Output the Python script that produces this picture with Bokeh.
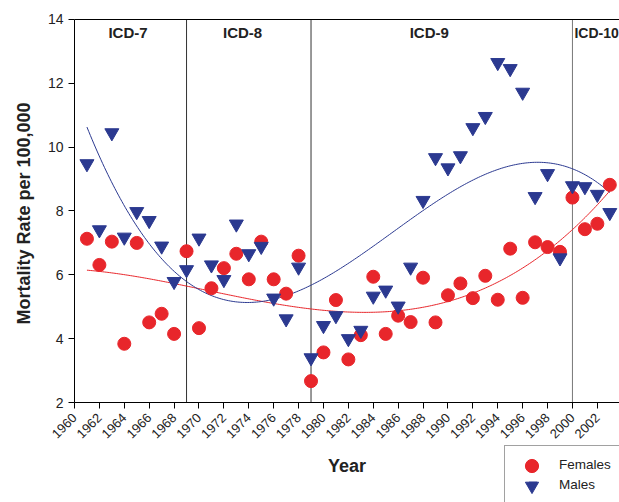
import numpy as np
from math import pi
from bokeh.plotting import figure
from bokeh.models import Label, Legend, LegendItem, FixedTicker, LinearAxis, Title
from bokeh.embed import file_html
from bokeh.resources import INLINE

# ---- data ----
years = list(range(1961, 2004))
females = [7.13, 6.31, 7.04, 3.84, 7.00, 4.51, 4.78, 4.15, 6.74, 4.33,
           5.58, 6.21, 6.66, 5.86, 7.04, 5.86, 5.41, 6.60, 2.67, 3.57,
           5.21, 3.35, 4.11, 5.94, 4.15, 4.72, 4.52, 5.91, 4.51, 5.36,
           5.73, 5.27, 5.97, 5.22, 6.82, 5.28, 7.02, 6.87, 6.72, 8.42,
           7.43, 7.60, 8.82]
males = [9.48, 7.41, 10.45, 7.18, 7.98, 7.70, 6.90, 5.79, 6.16, 7.15,
         6.31, 5.85, 7.59, 6.66, 6.89, 5.27, 4.62, 6.24, 3.40, 4.41,
         4.72, 4.00, 4.26, 5.33, 5.52, 5.02, 6.24, 8.33, 9.67, 9.35,
         9.73, 10.61, 10.96, 12.65, 12.46, 11.72, 8.45, 9.17, 6.53, 8.79,
         8.76, 8.52, 7.95]
icd_boundaries = [1969, 1979, 2000]
icd_labels = ["ICD-7", "ICD-8", "ICD-9", "ICD-10"]
x_ticks = list(range(1960, 2006, 2))
y_ticks = [2, 4, 6, 8, 10, 12, 14]

RED = "#E8262B"
BLUE = "#2B3990"
FONT = "Liberation Sans"

# The frame covers the whole canvas (except the y-title strip) so that the legend
# and the tick labels are not clipped; the axes are pinned with fixed_location.
p = figure(width=619, height=502, x_range=(1957.349, 2003.78), y_range=(-1.133, 14.595),
           output_backend="svg", toolbar_location=None,
           min_border_left=41, min_border_right=0, min_border_top=0,
           min_border_bottom=0)
p.grid.visible = False
p.outline_line_color = None
p.background_fill_color = "white"
p.border_fill_color = "white"

for ax in (p.xaxis[0], p.yaxis[0]):
    ax.axis_line_color = "black"
    ax.major_tick_line_color = "black"
    ax.minor_tick_line_color = None
    ax.major_tick_out = 6
    ax.major_tick_in = 0
    ax.major_label_text_font = FONT
    ax.major_label_text_color = "#222222"
    ax.axis_label_text_font = FONT
    ax.axis_label_text_font_style = "bold"
    ax.axis_label_text_color = "#222222"
    ax.axis_label_text_font_size = "18px"

p.xaxis.fixed_location = y_ticks[0]
p.xaxis.bounds = (x_ticks[0], x_ticks[-1])
p.xaxis.ticker = FixedTicker(ticks=x_ticks)
p.xaxis.major_label_orientation = pi / 4
p.xaxis.major_label_text_font_size = "13px"
p.xaxis.major_label_standoff = 7
p.xaxis.axis_label = "Year"
p.xaxis.axis_label_standoff = 11

p.yaxis.fixed_location = x_ticks[0]
p.yaxis.bounds = (y_ticks[0], y_ticks[-1])
p.yaxis.ticker = FixedTicker(ticks=y_ticks)
p.yaxis.major_label_text_font_size = "14px"
p.yaxis.major_label_standoff = 5

# y axis title (left panel)
p.add_layout(Title(text="Mortality Rate per 100,000", align="left", offset=178,
                   vertical_align="middle", standoff=14, text_font=FONT,
                   text_font_style="bold", text_font_size="18px",
                   text_color="#222222"), "left")

# top border line at y = 14
top = LinearAxis(fixed_location=y_ticks[-1], ticker=FixedTicker(ticks=[]),
                 bounds=(x_ticks[0], x_ticks[-1]), axis_line_color="black",
                 major_tick_line_color=None, minor_tick_line_color=None,
                 major_label_text_font_size="0px")
p.add_layout(top, "above")

# ICD period boundaries
p.segment(x0=icd_boundaries, y0=[y_ticks[0]] * 3, x1=icd_boundaries, y1=[y_ticks[-1]] * 3,
          line_color=["#333333", "#333333", "#777777"], line_width=1)

# ICD labels
label_x = [1964.3, 1973.5, 1988.5]
for lab, lx in zip(icd_labels[:3], label_x):
    p.add_layout(Label(x=lx, y=13.58, text=lab, text_align="center", text_baseline="middle",
                       text_font=FONT, text_font_style="bold", text_font_size="15px",
                       text_color="#222222"))
p.add_layout(Label(x=icd_boundaries[-1], y=13.58, x_offset=2, text=icd_labels[3],
                   text_align="left", text_baseline="middle", text_font=FONT,
                   text_font_style="bold", text_font_size="14px", text_color="#222222"))

# trend curves (cubic fits)
yr = np.array(years, dtype=float)
xs = np.linspace(1961, 2003, 300)
cf = np.polyfit(yr - 1982, females, 3)
cm = np.polyfit(yr - 1982, males, 3)
p.line(xs, np.polyval(cf, xs - 1982), line_color=RED, line_width=1)
p.line(xs, np.polyval(cm, xs - 1982), line_color=BLUE, line_width=1)

rf = p.scatter(years, females, marker="circle", size=13, fill_color=RED, line_color=RED)
rm = p.scatter(years, males, marker="inverted_triangle", size=14, fill_color=BLUE, line_color=BLUE)

# legend: box + labels
legend = Legend(items=[LegendItem(label="Females", renderers=[rf]),
                       LegendItem(label="Males", renderers=[rm])],
                location=(463, -1))
legend.padding = 8
legend.spacing = 0
legend.margin = 0
legend.glyph_width = 39
legend.glyph_height = 20
legend.label_height = 20
legend.label_width = 70
legend.label_standoff = 7
legend.label_text_font = FONT
legend.label_text_font_size = "13.5px"
legend.label_text_color = "#222222"
legend.border_line_color = "#444444"
legend.background_fill_alpha = 1.0
p.add_layout(legend)

# full-size legend markers drawn over the small default ones
for r, vy in ((rf, 20.5), (rm, 0.5)):
    mk = Legend(items=[LegendItem(label=" ", renderers=[r])], location=(474, vy),
                padding=0, spacing=0, margin=0, glyph_width=33, glyph_height=33,
                label_height=20, label_width=1, label_standoff=0,
                border_line_color=None, background_fill_alpha=0.0)
    p.add_layout(mk)

open("out.html", "w").write(file_html(p, INLINE))
